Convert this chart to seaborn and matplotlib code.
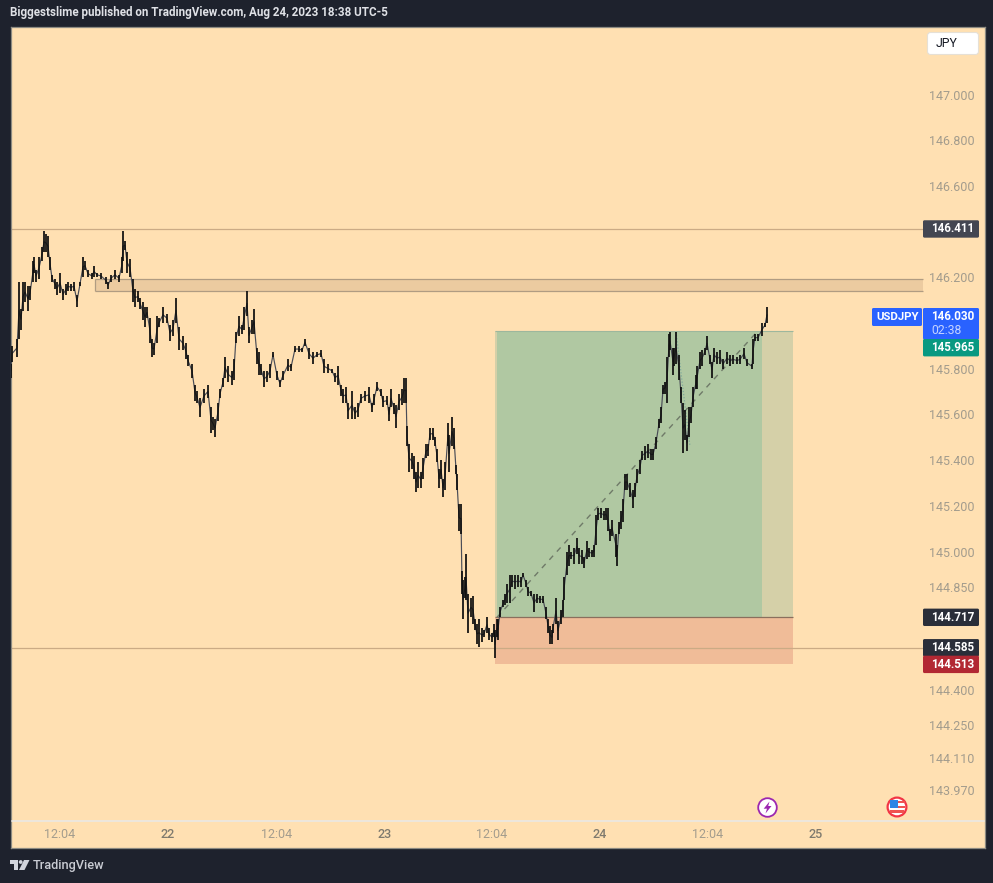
import matplotlib
matplotlib.use("Agg")
import matplotlib.pyplot as plt
import seaborn as sns
from matplotlib.patches import Rectangle, Circle, Polygon, FancyBboxPatch
from matplotlib.transforms import Affine2D
from matplotlib.ticker import FixedLocator, FixedFormatter, NullLocator

bars = [0,1,6,8,10,12,14,17,19,22,23,25,28,31,33,35,37,39,41,44,46,49,52,55,57,60,63,66,69,72,74,77,81,83,86,90,95,97,100,104,108,111,112,114,116,119,122,124,127,129,132,134,136,139,141,143,146,148,152,156,159,162,165,168,172,175,177,181,184,186,189,193,197,200,202,204,207,209,212,214,217,221,223,225,228,231,233,236,238,241,243,246,248,250,253,256,259,262,266,269,272,277,280,284,288,291,294,298,302,306,310,313,317,321,324,327,330,332,335,337,341,344,347,350,354,358,361,363,366,370,372,376,378,380,383,385,388,391,393,395,396,398,401,403,405,407,410,412,415,417,419,422,424,426,428,430,432,434,437,438,441,443,445,446,448,450,451,452,454,455,457,460,462,464,466,468,471,473,476,478,481,483,484,486,487,489,492,494,496,499,501,504,507,510,512,515,517,520,523,526,529,532,535,537,539,541,542,545,547,550,552,553,556,558,560,563,566,568,571,573,576,578,581,583,585,587,590,593,595,597,599,601,605,606,608,610,612,614,616,619,622,624,626,629,631,634,637,640,642,645,648,650,652,654,656,658,659,662,663,665,668,670,672,674,676,678,680,682,685,686,689,691,694,696,699,701,703,706,709,712,716,719,722,726,729,733,736,741,742,744,747,751,754,756]

high = [145.82,145.90,145.93,146.18,146.06,146.18,146.18,146.16,146.16,146.27,146.29,146.23,146.29,146.33,146.40,146.39,146.38,146.29,146.21,146.19,146.18,146.22,146.15,146.17,146.18,146.17,146.18,146.12,146.18,146.29,146.27,146.23,146.22,146.25,146.22,146.22,146.20,146.18,146.21,146.23,146.21,146.29,146.40,146.36,146.31,146.28,146.19,146.15,146.14,146.11,146.09,146.07,146.07,146.02,145.93,145.91,146.03,146.02,146.07,146.04,145.99,146.01,146.11,145.98,145.94,145.91,145.86,145.82,145.73,145.70,145.67,145.71,145.73,145.63,145.59,145.58,145.65,145.71,145.76,145.85,145.81,145.79,145.84,145.96,146.03,145.99,146.07,146.14,145.98,146.01,146.06,145.89,145.87,145.82,145.79,145.79,145.82,145.87,145.79,145.75,145.79,145.84,145.82,145.90,145.90,145.89,145.93,145.89,145.87,145.87,145.88,145.84,145.82,145.80,145.78,145.81,145.73,145.71,145.72,145.65,145.70,145.63,145.65,145.69,145.70,145.72,145.65,145.69,145.74,145.71,145.68,145.68,145.63,145.71,145.65,145.64,145.69,145.71,145.76,145.76,145.55,145.47,145.43,145.42,145.35,145.39,145.35,145.41,145.47,145.47,145.54,145.54,145.50,145.45,145.36,145.40,145.32,145.39,145.56,145.51,145.59,145.54,145.38,145.34,145.21,145.21,144.92,144.88,144.89,144.99,144.82,144.80,144.81,144.71,144.69,144.71,144.67,144.66,144.72,144.67,144.65,144.69,144.66,144.71,144.71,144.76,144.79,144.82,144.86,144.90,144.90,144.90,144.90,144.89,144.91,144.88,144.85,144.83,144.82,144.82,144.81,144.81,144.76,144.71,144.68,144.66,144.69,144.80,144.70,144.75,144.79,144.89,145.00,145.03,145.00,145.02,145.06,145.02,145.01,144.98,145.05,145.02,145.01,145.03,145.16,145.19,145.19,145.18,145.19,145.19,145.10,145.14,145.08,145.03,145.13,145.18,145.23,145.34,145.34,145.30,145.27,145.30,145.36,145.40,145.44,145.46,145.47,145.45,145.45,145.50,145.58,145.63,145.73,145.74,145.85,145.95,145.96,145.89,145.89,145.96,145.86,145.72,145.65,145.62,145.51,145.63,145.63,145.72,145.77,145.81,145.87,145.88,145.89,145.94,145.86,145.83,145.89,145.87,145.88,145.84,145.87,145.86,145.86,145.85,145.86,145.89,145.84,145.82,145.93,145.95,145.95,146.00,146.00,146.07]

low = [145.76,145.83,145.85,145.93,145.97,146.05,146.09,146.05,146.10,146.18,146.22,146.18,146.19,146.27,146.31,146.31,146.29,146.23,146.18,146.15,146.12,146.13,146.10,146.12,146.14,146.14,146.14,146.07,146.16,146.20,146.23,146.20,146.19,146.20,146.20,146.19,146.17,146.15,146.18,146.19,146.18,146.22,146.27,146.32,146.22,146.20,146.09,146.07,146.09,146.06,146.01,145.98,146.02,145.91,145.85,145.86,145.91,145.98,146.00,146.00,145.92,145.94,146.00,145.88,145.88,145.84,145.81,145.76,145.66,145.65,145.59,145.65,145.67,145.52,145.53,145.50,145.57,145.67,145.72,145.76,145.74,145.73,145.75,145.91,145.94,145.95,145.97,146.03,145.91,145.95,145.95,145.82,145.77,145.77,145.72,145.74,145.76,145.85,145.75,145.72,145.75,145.79,145.79,145.87,145.87,145.87,145.90,145.84,145.82,145.85,145.85,145.78,145.78,145.78,145.74,145.73,145.68,145.65,145.65,145.58,145.58,145.58,145.59,145.65,145.66,145.65,145.61,145.64,145.70,145.68,145.63,145.64,145.57,145.63,145.60,145.54,145.62,145.64,145.65,145.65,145.46,145.35,145.36,145.32,145.26,145.28,145.28,145.32,145.41,145.42,145.49,145.49,145.46,145.39,145.28,145.32,145.24,145.27,145.46,145.35,145.46,145.45,145.34,145.27,145.09,145.08,144.82,144.71,144.80,144.79,144.65,144.72,144.69,144.66,144.60,144.59,144.61,144.63,144.65,144.62,144.61,144.63,144.54,144.63,144.62,144.72,144.76,144.77,144.78,144.78,144.85,144.84,144.85,144.85,144.89,144.85,144.81,144.81,144.74,144.78,144.78,144.78,144.71,144.65,144.60,144.60,144.65,144.69,144.62,144.69,144.72,144.79,144.90,144.94,144.97,144.95,144.99,144.95,144.95,144.93,144.97,144.98,144.98,144.98,145.03,145.14,145.15,145.14,145.14,145.09,145.05,145.07,144.98,144.94,145.08,145.10,145.13,145.27,145.27,145.24,145.19,145.24,145.30,145.34,145.40,145.40,145.41,145.40,145.40,145.45,145.54,145.56,145.69,145.69,145.65,145.85,145.88,145.77,145.81,145.82,145.75,145.65,145.43,145.49,145.44,145.50,145.56,145.63,145.71,145.71,145.80,145.81,145.86,145.88,145.82,145.76,145.83,145.82,145.82,145.80,145.82,145.81,145.82,145.82,145.82,145.84,145.81,145.80,145.82,145.92,145.92,145.94,145.98,146.00]

price_ticks = [147.0,146.8,146.6,146.2,145.8,145.6,145.4,145.2,145.0,144.85,144.4,144.25,144.11,143.97]
time_bars = [49,157,266,374,481,589,697,805]
time_labels = ["12:04","22","12:04","23","12:04","24","12:04","25"]

resistance_line = 146.411
support_line = 144.585
zone_top, zone_bottom = 146.19, 146.14
zone_start, zone_end = 84, 912
entry, target, stop = 144.717, 145.965, 144.513
pos_start, pos_now, pos_end = 484, 751, 782
diag_bars = [486, 747]
diag_prices = [144.717, 145.965]
dot_bars = [665, 679]
dot_prices = [145.96, 145.46]

W, H = 993, 883
BG = "#1e222d"
PANEL = "#ffe0b2"

sns.set_theme(style="white", rc={"axes.facecolor": PANEL, "figure.facecolor": BG})
plt.rcParams["font.family"] = ["Roboto", "DejaVu Sans"]

fig = plt.figure(figsize=(W/100, H/100), dpi=100, facecolor=BG)
ax = fig.add_axes([11/W, 1-848/H, 974/W, 821/H])
px = Affine2D().scale(1/W, -1/H).translate(0, 1) + fig.transFigure

ax.set_yscale("log")
ax.set_xlim(0, 974)
ax.set_ylim(143.720, 147.2998)
ax.yaxis.tick_right()
ax.yaxis.set_major_locator(FixedLocator(price_ticks))
ax.yaxis.set_major_formatter(FixedFormatter([f"{p:.3f}" for p in price_ticks]))
ax.yaxis.set_minor_locator(NullLocator())
ax.set_xticks(time_bars, time_labels)
ax.tick_params(axis="y", which="both", length=0, pad=-40, labelsize=9.0, labelcolor="#a39c8d")
ax.tick_params(axis="x", which="both", length=0, pad=-14.6, labelsize=9.0, labelcolor="#a39c8d")
for lab, txt in zip(ax.get_xticklabels(), time_labels):
    if txt != "12:04":
        lab.set_color("#7f7a6e")
        lab.set_fontweight("medium")
for s in ax.spines.values():
    s.set_color("#8c8a82")
    s.set_linewidth(0.9)
ax.grid(False)

# position tool
ax.fill_between([pos_start, pos_end], entry, target, color="#d5d0a8", lw=0, zorder=1)
ax.fill_between([pos_start+2, pos_now], entry, target, color="#b0c8a2", lw=0, zorder=1.1)
ax.fill_between([pos_start, pos_end], stop, entry, color="#f0bc98", lw=0, zorder=1)
ax.hlines(target, pos_start, pos_end, color="#9db79d", lw=0.8, zorder=1.2)
ax.hlines(entry, pos_start, pos_end, color="#8a6f5d", lw=0.9, zorder=1.2)

# zone and levels
ax.fill_between([zone_start, zone_end], zone_bottom, zone_top, color="#eccba0", lw=0, zorder=1)
ax.hlines([zone_top, zone_bottom], zone_start, zone_end, color="#b09c82", lw=0.9, zorder=1.2)
ax.vlines(zone_start, zone_bottom, zone_top, color="#b09c82", lw=0.9, zorder=1.2)
ax.hlines([resistance_line, support_line], 0, zone_end, color="#cbab85", lw=0.9, zorder=1.3)

# trend helpers
ax.plot(diag_bars, diag_prices, color="#6f7a68", lw=1.0, ls=(0, (4, 4)), zorder=1.5)
ax.plot(dot_bars, dot_prices, color="#7fa89a", lw=0.9, ls=(0, (1, 1.5)), zorder=1.5)

# price bars
mid = [(h+l)/2 for h, l in zip(high, low)]
sns.lineplot(x=bars, y=mid, ax=ax, color="#4a4d57", linewidth=0.85, estimator=None, sort=False, zorder=3)
ax.vlines(bars, low, high, colors="#0e0e0e", linewidth=1.25, zorder=4)
ax.set_xlabel("")
ax.set_ylabel("")
ax.set_xlim(0, 974)
ax.set_ylim(143.720, 147.2998)

fig.canvas.draw()

def y_of(price):
    return H - ax.transData.transform((0, price))[1]

def box(x0, y0, x1, y1, color, z=10):
    fig.add_artist(FancyBboxPatch((x0+1, y0+1), x1-x0-2, y1-y0-2, boxstyle="round,pad=1,rounding_size=1.5",
                                  fc=color, ec="none", transform=px, zorder=z))

def label(x, y, s, color="white", size=8.4, weight="bold", ha="left", z=11, **kw):
    fig.text(x, y, s, color=color, fontsize=size, fontweight=weight, ha=ha, va="center",
             transform=px, zorder=z, **kw)

def tag(price, color, center=None):
    c = y_of(price) if center is None else center
    box(923, c-8.7, 979, c+8.7, color)
    label(931, c, f"{price:.3f}")

tag(resistance_line, "#434651")
tag(entry, "#2a2e39")
tag(support_line, "#2a2e39")
tag(stop, "#b22833")

box(923, 308, 979, 339.5, "#2962ff")
label(931, 316.5, "146.030")
label(931, 330.5, "02:38", color="#c5d3ff", weight="normal", size=8.8)
box(872, 308, 922, 326, "#2962ff")
label(876.5, 317, "USDJPY", size=8.2)
tag(target, "#089981", center=347.7)

# currency button
fig.add_artist(FancyBboxPatch((928, 33), 50, 21, boxstyle="round,pad=0.5,rounding_size=3",
                              fc="white", ec="#e6e0d6", lw=0.8, transform=px, zorder=10))
label(936, 43.5, "JPY", color="#131722", weight="normal", size=8.8)

# time axis separator
fig.add_artist(plt.Line2D([12, 984], [821, 821], color="#ece7e0", lw=1.3, transform=px, zorder=6))

# event icons
fig.add_artist(Circle((767.5, 807.5), 9.3, fc="white", ec="#9c27b0", lw=1.3, transform=px, zorder=7))
fig.add_artist(Polygon([(769.5, 801.5), (763.7, 808.7), (767, 808.7), (765.5, 813.5), (771.5, 806), (768.2, 806)],
                       fc="#9c27b0", ec="none", transform=px, zorder=8))
fig.add_artist(Circle((897, 807), 9.4, fc="white", ec="#f23645", lw=1.6, transform=px, zorder=7))
fig.add_artist(Rectangle((889.5, 799.5), 8.5, 8, fc="#2e86e6", ec="none", transform=px, zorder=8))
for yy in (800.5, 805.5):
    fig.add_artist(Rectangle((898, yy), 7, 2.2, fc="#ef5350", ec="none", transform=px, zorder=8))
fig.add_artist(Rectangle((890, 810), 14, 2.6, fc="#ef5350", ec="none", transform=px, zorder=8))

# header and footer
label(10, 12.5, "Biggestslime published on TradingView.com, Aug 24, 2023 18:38 UTC-5",
      color="#dfe1e6", size=8.4, weight="bold")
fig.add_artist(Polygon([(10, 860), (18, 860), (18, 870), (14, 870), (14, 864), (10, 864)],
                       fc="#d1d4dc", ec="none", transform=px, zorder=8))
fig.add_artist(Circle((20.7, 862), 1.9, fc="#d1d4dc", ec="none", transform=px, zorder=8))
fig.add_artist(Polygon([(24, 860), (29.5, 860), (24.5, 870), (19, 870)],
                       fc="#d1d4dc", ec="none", transform=px, zorder=8))
label(33, 865.5, "TradingView", color="#c9ccd3", size=9.2, weight="medium")

fig.savefig("out.png", dpi=100, facecolor=BG)
